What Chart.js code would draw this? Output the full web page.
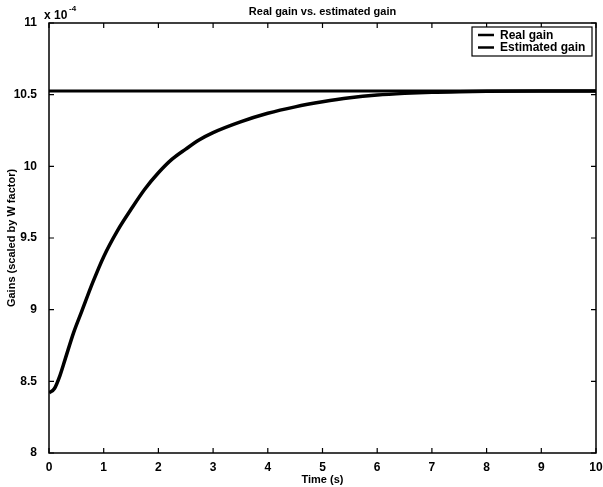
<!DOCTYPE html>
<html>
<head>
<meta charset="utf-8">
<script src="https://cdn.jsdelivr.net/npm/chart.js@4/dist/chart.umd.min.js"></script>
<style>
  html, body { margin: 0; padding: 0; background: #fff; }
  #wrap { width: 603px; height: 487px; }
</style>
</head>
<body>
<div id="wrap"><canvas id="myChart" width="603" height="487"></canvas></div>
<script>
// data (gains in units of 1e-4)
const time = [0, 0.1, 0.2, 0.3, 0.45, 0.6, 0.8, 1.0, 1.25, 1.5, 1.75, 2.0, 2.25, 2.5, 2.75, 3.0, 3.5, 4.0, 4.5, 5.0, 5.5, 6.0, 6.5, 7.0, 7.5, 8, 9, 10];
const estimatedGain = [8.42, 8.45, 8.54, 8.66, 8.84, 8.99, 9.19, 9.37, 9.55, 9.70, 9.84, 9.955, 10.05, 10.12, 10.185, 10.235, 10.31, 10.37, 10.415, 10.45, 10.478, 10.497, 10.509, 10.517, 10.521, 10.523, 10.525, 10.525];
const realGainTime = [0, 10];
const realGain = [10.526, 10.526];
const xTicks = [0, 1, 2, 3, 4, 5, 6, 7, 8, 9, 10];
const yTicks = [8, 8.5, 9, 9.5, 10, 10.5, 11];
const chartTitle = "Real gain vs. estimated gain";

const FONT = "'Liberation Sans', Arial, sans-serif";

// MATLAB style box with inward ticks, title, exponent label and boxed legend
const matlabPlugin = {
  id: "matlab",
  afterDraw(chart) {
    const c = chart.ctx;
    const a = chart.chartArea;
    const xs = chart.scales.x, ys = chart.scales.y;
    c.save();
    c.strokeStyle = "#000";
    c.lineWidth = 1.5;
    c.strokeRect(a.left, a.top, a.right - a.left, a.bottom - a.top);
    c.lineWidth = 1.2;
    c.beginPath();
    xTicks.forEach(v => {
      const px = xs.getPixelForValue(v);
      c.moveTo(px, a.bottom); c.lineTo(px, a.bottom - 5);
      c.moveTo(px, a.top); c.lineTo(px, a.top + 5);
    });
    yTicks.forEach(v => {
      const py = ys.getPixelForValue(v);
      c.moveTo(a.left, py); c.lineTo(a.left + 5, py);
      c.moveTo(a.right, py); c.lineTo(a.right - 5, py);
    });
    c.stroke();

    // title centred over the axes
    c.fillStyle = "#000";
    c.font = "bold 11px " + FONT;
    c.textAlign = "center";
    c.textBaseline = "alphabetic";
    c.fillText(chartTitle, (a.left + a.right) / 2, 15);

    // exponent label
    c.textAlign = "left";
    c.font = "bold 12px " + FONT;
    c.fillText("x 10", a.left - 5, a.top - 4);
    c.font = "bold 8px " + FONT;
    c.fillText("-4", a.left + 20, a.top - 12);

    // legend
    const lx = 472, ly = a.top + 4, lw = a.right - 4 - lx, lh = 29;
    c.fillStyle = "#fff";
    c.fillRect(lx, ly, lw, lh);
    c.strokeStyle = "#000";
    c.lineWidth = 1.2;
    c.strokeRect(lx, ly, lw, lh);
    c.font = "bold 12px " + FONT;
    c.textBaseline = "middle";
    chart.data.datasets.forEach((ds, i) => {
      const yy = ly + 8 + i * 12.5;
      c.strokeStyle = ds.borderColor;
      c.lineWidth = 2.5;
      c.beginPath();
      c.moveTo(lx + 6, yy); c.lineTo(lx + 22, yy);
      c.stroke();
      c.fillStyle = "#000";
      c.fillText(ds.label, lx + 28, yy + 0.5);
    });
    c.restore();
  }
};

const ctx = document.getElementById("myChart");
const myChart = new Chart(ctx, {
  type: "line",
  data: {
    datasets: [
      {
        label: "Real gain",
        data: realGainTime.map((t, i) => ({ x: t, y: realGain[i] })),
        borderColor: "#000",
        borderWidth: 3,
        pointRadius: 0,
        tension: 0
      },
      {
        label: "Estimated gain",
        data: time.map((t, i) => ({ x: t, y: estimatedGain[i] })),
        borderColor: "#000",
        borderWidth: 3.5,
        pointRadius: 0,
        cubicInterpolationMode: "monotone"
      }
    ]
  },
  options: {
    responsive: false,
    animation: false,
    layout: { padding: { left: 0, right: 7, top: 23, bottom: 0 } },
    plugins: {
      legend: { display: false },
      tooltip: { enabled: false },
      title: { display: false }
    },
    scales: {
      x: {
        type: "linear",
        min: 0,
        max: 10,
        afterBuildTicks: s => { s.ticks = xTicks.map(v => ({ value: v })); },
        afterFit: s => { s.height = 34; },
        grid: { display: false },
        border: { display: false },
        ticks: { color: "#000", padding: -1, maxRotation: 0, font: { family: FONT, size: 12, weight: "bold" } },
        title: { display: true, text: "Time (s)", color: "#000", padding: 0, font: { family: FONT, size: 11, weight: "bold" } }
      },
      y: {
        min: 8,
        max: 11,
        afterBuildTicks: s => { s.ticks = yTicks.map(v => ({ value: v })); },
        afterFit: s => { s.width = 49; },
        grid: { display: false },
        border: { display: false },
        ticks: { color: "#000", padding: 4, callback: v => String(v), font: { family: FONT, size: 12, weight: "bold" } },
        title: { display: true, text: "Gains (scaled by W factor)", color: "#000", padding: { top: 5, bottom: 0 }, font: { family: FONT, size: 11, weight: "bold" } }
      }
    }
  },
  plugins: [matlabPlugin]
});
</script>
</body>
</html>
